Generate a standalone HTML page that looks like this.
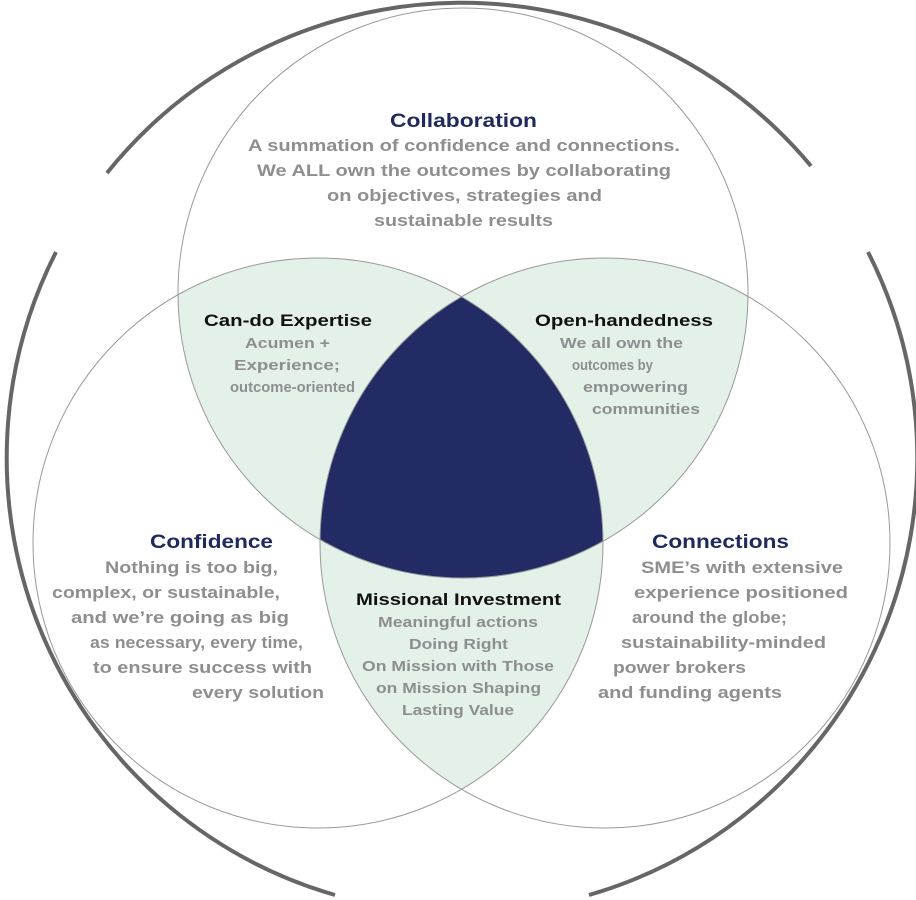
<!DOCTYPE html>
<html><head><meta charset="utf-8"><style>
html,body{margin:0;padding:0;background:#fff;}
svg{display:block;}
text{font-family:"Liberation Sans",Arial,sans-serif;font-weight:bold;}
.t{fill:#1f2a5c;font-size:19px;}
.b{fill:#8e8e90;font-size:17px;}
.lt{fill:#111;font-size:17px;}
.lb{fill:#8e8e90;font-size:15px;}
</style></head><body>
<svg width="916" height="900" viewBox="0 0 916 900" xmlns="http://www.w3.org/2000/svg">
<defs>
<clipPath id="cT"><circle cx="463" cy="293" r="285"/></clipPath>
<clipPath id="cL"><circle cx="318" cy="543" r="285"/></clipPath>
</defs>
<!-- outer arcs -->
<g fill="none" stroke="#666" stroke-width="4">
<path d="M107,173 A455,455 0 0 1 811,166"/>
<path d="M56,252 A455,455 0 0 0 335,895"/>
<path d="M868,252 A455,455 0 0 1 589,895"/>
</g>
<!-- lenses -->
<g clip-path="url(#cT)"><circle cx="318" cy="543" r="285" fill="#e4f1e8"/></g>
<g clip-path="url(#cT)"><circle cx="605" cy="543" r="285" fill="#e4f1e8"/></g>
<g clip-path="url(#cL)"><circle cx="605" cy="543" r="285" fill="#e4f1e8"/></g>
<g clip-path="url(#cT)"><g clip-path="url(#cL)"><circle cx="605" cy="543" r="285" fill="#222b63"/></g></g>
<g fill="none" stroke="#999" stroke-width="1">
<circle cx="463" cy="293" r="285"/>
<circle cx="318" cy="543" r="285"/>
<circle cx="605" cy="543" r="285"/>
</g>
<!-- Collaboration -->
<text class="t" x="390" y="127" textLength="147" lengthAdjust="spacingAndGlyphs">Collaboration</text>
<text class="b" x="248" y="151" textLength="432" lengthAdjust="spacingAndGlyphs">A summation of confidence and connections.</text>
<text class="b" x="257" y="176" textLength="414" lengthAdjust="spacingAndGlyphs">We ALL own the outcomes by collaborating</text>
<text class="b" x="327" y="201" textLength="275" lengthAdjust="spacingAndGlyphs">on objectives, strategies and</text>
<text class="b" x="374" y="226" textLength="179" lengthAdjust="spacingAndGlyphs">sustainable results</text>
<!-- Can-do -->
<text class="lt" x="204" y="326" textLength="168" lengthAdjust="spacingAndGlyphs">Can-do Expertise</text>
<text class="lb" x="245" y="348" textLength="85" lengthAdjust="spacingAndGlyphs">Acumen +</text>
<text class="lb" x="234" y="370" textLength="106" lengthAdjust="spacingAndGlyphs">Experience;</text>
<text class="lb" x="230" y="392" textLength="125" lengthAdjust="spacingAndGlyphs">outcome-oriented</text>
<!-- Open -->
<text class="lt" x="535" y="326" textLength="178" lengthAdjust="spacingAndGlyphs">Open-handedness</text>
<text class="lb" x="560" y="348" textLength="123" lengthAdjust="spacingAndGlyphs">We all own the</text>
<text class="lb" x="572" y="370" textLength="81" lengthAdjust="spacingAndGlyphs">outcomes by</text>
<text class="lb" x="583" y="392" textLength="105" lengthAdjust="spacingAndGlyphs">empowering</text>
<text class="lb" x="592" y="414" textLength="108" lengthAdjust="spacingAndGlyphs">communities</text>
<!-- Confidence -->
<text class="t" x="150" y="548" textLength="123" lengthAdjust="spacingAndGlyphs">Confidence</text>
<text class="b" x="105" y="573" textLength="173" lengthAdjust="spacingAndGlyphs">Nothing is too big,</text>
<text class="b" x="52" y="598" textLength="228" lengthAdjust="spacingAndGlyphs">complex, or sustainable,</text>
<text class="b" x="71" y="623" textLength="218" lengthAdjust="spacingAndGlyphs">and we’re going as big</text>
<text class="b" x="90" y="648" textLength="213" lengthAdjust="spacingAndGlyphs">as necessary, every time,</text>
<text class="b" x="93" y="673" textLength="219" lengthAdjust="spacingAndGlyphs">to ensure success with</text>
<text class="b" x="192" y="698" textLength="132" lengthAdjust="spacingAndGlyphs">every solution</text>
<!-- Connections -->
<text class="t" x="652" y="548" textLength="137" lengthAdjust="spacingAndGlyphs">Connections</text>
<text class="b" x="641" y="573" textLength="202" lengthAdjust="spacingAndGlyphs">SME’s with extensive</text>
<text class="b" x="634" y="598" textLength="214" lengthAdjust="spacingAndGlyphs">experience positioned</text>
<text class="b" x="632" y="623" textLength="155" lengthAdjust="spacingAndGlyphs">around the globe;</text>
<text class="b" x="621" y="648" textLength="205" lengthAdjust="spacingAndGlyphs">sustainability-minded</text>
<text class="b" x="613" y="673" textLength="133" lengthAdjust="spacingAndGlyphs">power brokers</text>
<text class="b" x="598" y="698" textLength="184" lengthAdjust="spacingAndGlyphs">and funding agents</text>
<!-- Missional -->
<text class="lt" x="356" y="605" textLength="205" lengthAdjust="spacingAndGlyphs">Missional Investment</text>
<text class="lb" x="378" y="627" textLength="160" lengthAdjust="spacingAndGlyphs">Meaningful actions</text>
<text class="lb" x="409" y="649" textLength="99" lengthAdjust="spacingAndGlyphs">Doing Right</text>
<text class="lb" x="362" y="671" textLength="192" lengthAdjust="spacingAndGlyphs">On Mission with Those</text>
<text class="lb" x="376" y="693" textLength="165" lengthAdjust="spacingAndGlyphs">on Mission Shaping</text>
<text class="lb" x="402" y="715" textLength="112" lengthAdjust="spacingAndGlyphs">Lasting Value</text>
</svg>
</body></html>
